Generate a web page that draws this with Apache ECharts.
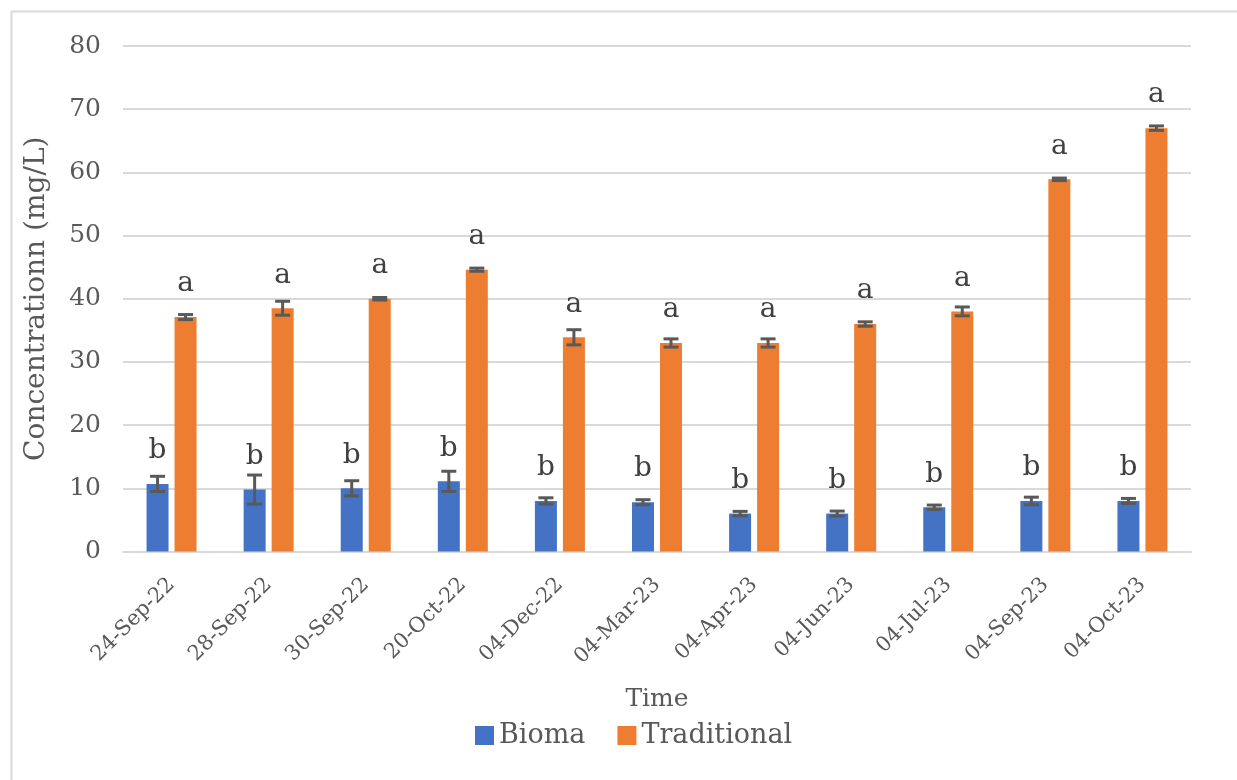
<!DOCTYPE html>
<html>
<head>
<meta charset="utf-8">
<script src="https://cdn.jsdelivr.net/npm/echarts@6/dist/echarts.min.js"></script>
<style>
  html, body { margin: 0; padding: 0; background: #ffffff; }
  #chart { width: 1237px; height: 780px; }
</style>
</head>
<body>
<div id="chart"></div>
<script>
// Sampling dates
const categories = ['24-Sep-22', '28-Sep-22', '30-Sep-22', '20-Oct-22', '04-Dec-22',
  '04-Mar-23', '04-Apr-23', '04-Jun-23', '04-Jul-23', '04-Sep-23', '04-Oct-23'];

// Mean concentration (mg/L) and error
const biomaValues = [10.7, 9.8, 10.0, 11.1, 8.0, 7.8, 6.0, 6.0, 7.0, 8.0, 8.0];
const biomaErrors = [1.2, 2.3, 1.2, 1.6, 0.5, 0.4, 0.35, 0.4, 0.35, 0.6, 0.4];
const traditionalValues = [37.1, 38.5, 40.0, 44.6, 33.9, 33.0, 33.0, 36.0, 38.0, 58.9, 67.0];
const traditionalErrors = [0.4, 1.1, 0.2, 0.25, 1.2, 0.65, 0.65, 0.35, 0.7, 0.2, 0.35];

// Significance letters
const biomaLetters = ['b', 'b', 'b', 'b', 'b', 'b', 'b', 'b', 'b', 'b', 'b'];
const traditionalLetters = ['a', 'a', 'a', 'a', 'a', 'a', 'a', 'a', 'a', 'a', 'a'];

// Y axis ticks
const yMin = 0, yMax = 80, yStep = 10;

const FONT = 'DejaVu Serif';
const TEXT = '#595959';
const GRID_COLOR = '#D9D9D9';
const BLUE = '#4472C4';
const ORANGE = '#ED7D31';
const BAR_W = 22;
const BAR_GAP = 6;
const HALF_SHIFT = (BAR_W + BAR_GAP) / 2;

function errorBarSeries(name, values, errors, shift) {
  const data = values.map((v, i) => [i, v - errors[i], v + errors[i]]);
  return {
    type: 'custom',
    name: name,
    z: 5,
    silent: true,
    data: data,
    encode: { x: 0, y: [1, 2] },
    renderItem: function (params, api) {
      const i = api.value(0);
      const lo = api.coord([i, api.value(1)]);
      const hi = api.coord([i, api.value(2)]);
      const x = lo[0] + shift;
      const cap = 7.5;
      const style = { stroke: '#595959', lineWidth: 3 };
      return {
        type: 'group',
        children: [
          { type: 'line', shape: { x1: x, y1: lo[1], x2: x, y2: hi[1] }, style: style },
          { type: 'line', shape: { x1: x - cap, y1: lo[1], x2: x + cap, y2: lo[1] }, style: style },
          { type: 'line', shape: { x1: x - cap, y1: hi[1], x2: x + cap, y2: hi[1] }, style: style }
        ]
      };
    }
  };
}

function barSeries(name, values, letters, color) {
  return {
    type: 'bar',
    name: name,
    data: values,
    barWidth: BAR_W,
    barGap: (BAR_GAP / BAR_W * 100) + '%',
    itemStyle: { color: color },
    label: {
      show: true,
      position: 'top',
      distance: 19,
      fontFamily: FONT,
      fontSize: 28,
      color: '#404040',
      formatter: function (p) { return letters[p.dataIndex]; }
    },
    z: 2
  };
}

const chart = echarts.init(document.getElementById('chart'), null, { renderer: 'canvas' });

chart.setOption({
  animation: false,
  backgroundColor: '#ffffff',
  textStyle: { fontFamily: FONT, color: TEXT },
  graphic: [{
    type: 'rect',
    left: 9, top: 9,
    shape: { width: 1260, height: 800 },
    style: { fill: 'none', stroke: GRID_COLOR, lineWidth: 2 },
    silent: true
  }],
  grid: { left: 123, right: 46, top: 46, bottom: 228.5, containLabel: false },
  legend: {
    data: [
      { name: 'Bioma', icon: 'rect' },
      { name: 'Traditional', icon: 'rect' }
    ],
    left: 470,
    top: 717,
    itemWidth: 19,
    itemHeight: 19,
    itemGap: 32,
    textStyle: { fontFamily: FONT, fontSize: 27, color: TEXT, padding: [0, 0, 0, 0] }
  },
  xAxis: {
    type: 'category',
    data: categories,
    name: 'Time',
    nameLocation: 'middle',
    nameGap: 135,
    nameTextStyle: { fontFamily: FONT, fontSize: 25, color: TEXT },
    axisLine: { lineStyle: { color: GRID_COLOR, width: 2 } },
    axisTick: { show: false },
    axisLabel: {
      rotate: 45,
      margin: 30,
      fontFamily: FONT,
      fontSize: 21,
      color: TEXT,
      interval: 0
    }
  },
  yAxis: {
    type: 'value',
    min: yMin,
    max: yMax,
    interval: yStep,
    name: 'Concentrationn (mg/L)',
    nameLocation: 'middle',
    nameRotate: 90,
    nameGap: 72,
    nameTextStyle: { fontFamily: FONT, fontSize: 28, color: TEXT },
    axisLine: { show: false },
    axisTick: { show: false },
    axisLabel: { fontFamily: FONT, fontSize: 25, color: TEXT, margin: 22 },
    splitLine: { lineStyle: { color: GRID_COLOR, width: 2 } }
  },
  series: [
    barSeries('Bioma', biomaValues, biomaLetters, BLUE),
    barSeries('Traditional', traditionalValues, traditionalLetters, ORANGE),
    errorBarSeries('Bioma error', biomaValues, biomaErrors, -HALF_SHIFT),
    errorBarSeries('Traditional error', traditionalValues, traditionalErrors, HALF_SHIFT)
  ]
});
</script>
</body>
</html>
